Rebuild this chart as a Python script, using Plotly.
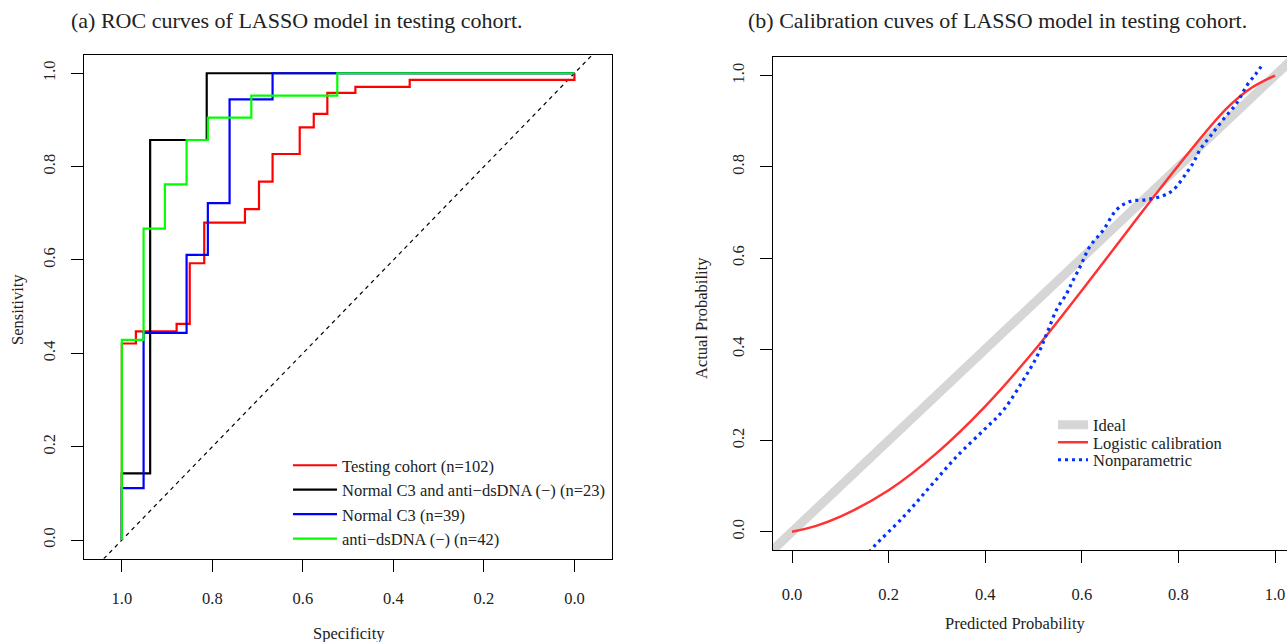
import plotly.graph_objects as go

W, H = 1287, 642
FONT = "Liberation Serif"

# ---------------- ROC data (specificity, sensitivity) ----------------
roc_names = ["Testing cohort (n=102)",
             "Normal C3 and anti\u2212dsDNA (\u2212) (n=23)",
             "Normal C3 (n=39)",
             "anti\u2212dsDNA (\u2212) (n=42)"]
roc_colors = ["#ff0000", "#000000", "#0000ff", "#00ff00"]

testing_spec = [1.0, 1.0, 0.969, 0.969, 0.879, 0.879, 0.85, 0.85, 0.818, 0.818, 0.728, 0.728,
                0.697, 0.697, 0.667, 0.667, 0.607, 0.607, 0.576, 0.576, 0.546, 0.546,
                0.484, 0.484, 0.364, 0.364, 0.0, 0.0]
testing_sens = [0.0, 0.421, 0.421, 0.447, 0.447, 0.463, 0.463, 0.593, 0.593, 0.68, 0.68, 0.709,
                0.709, 0.768, 0.768, 0.827, 0.827, 0.884, 0.884, 0.913, 0.913, 0.958,
                0.958, 0.971, 0.971, 0.986, 0.986, 1.0]

both_spec = [1.0, 1.0, 0.9375, 0.9375, 0.8125, 0.8125, 0.0]
both_sens = [0.0, 0.143, 0.143, 0.857, 0.857, 1.0, 1.0]

c3_spec = [1.0, 1.0, 0.952, 0.952, 0.857, 0.857, 0.810, 0.810, 0.762, 0.762, 0.667, 0.667, 0.0]
c3_sens = [0.0, 0.111, 0.111, 0.444, 0.444, 0.611, 0.611, 0.722, 0.722, 0.944, 0.944, 1.0, 1.0]

ds_spec = [1.0, 1.0, 0.952, 0.952, 0.905, 0.905, 0.857, 0.857, 0.810, 0.810, 0.714, 0.714,
           0.524, 0.524, 0.0]
ds_sens = [0.0, 0.429, 0.429, 0.667, 0.667, 0.762, 0.762, 0.857, 0.857, 0.905, 0.905, 0.952,
           0.952, 1.0, 1.0]

roc_specs = [testing_spec, both_spec, c3_spec, ds_spec]
roc_senss = [testing_sens, both_sens, c3_sens, ds_sens]

chance_spec = [1.2, -0.2]
chance_sens = [-0.2, 1.2]

# ---------------- Calibration data ----------------
cal_names = ["Ideal", "Logistic calibration", "Nonparametric"]

ideal_x = [-0.1, 1.1]
ideal_y = [-0.1, 1.1]

logit_x = [0.0, 0.05, 0.1, 0.2, 0.3, 0.4, 0.5, 0.6, 0.7, 0.8, 0.9, 0.95, 1.0]
logit_y = [0.0, 0.013, 0.033, 0.091, 0.173, 0.275, 0.395, 0.529, 0.667, 0.803, 0.928, 0.972, 1.0]

np_x = [0.160, 0.169, 0.231, 0.286, 0.341, 0.397, 0.438, 0.479, 0.507, 0.528, 0.548, 0.569,
        0.579, 0.597, 0.617, 0.645, 0.672, 0.700, 0.734, 0.769, 0.790, 0.817, 0.831, 0.845,
        0.866, 0.893, 0.921, 0.941, 0.962, 0.976]
np_y = [-0.045, -0.033, 0.033, 0.099, 0.165, 0.223, 0.267, 0.333, 0.384, 0.436, 0.487, 0.523,
        0.545, 0.582, 0.626, 0.662, 0.706, 0.724, 0.728, 0.737, 0.750, 0.787, 0.809, 0.838,
        0.867, 0.904, 0.940, 0.977, 1.006, 1.027]

tick_vals = [0.0, 0.2, 0.4, 0.6, 0.8, 1.0]
tick_text = ["0.0", "0.2", "0.4", "0.6", "0.8", "1.0"]

fig = go.Figure()

# chance diagonal
fig.add_trace(go.Scatter(x=chance_spec, y=chance_sens, mode="lines", showlegend=False,
                         line=dict(color="black", width=1.2, dash="4px,4px"),
                         xaxis="x", yaxis="y", hoverinfo="skip"))
for sp, se, nm, col in zip(roc_specs, roc_senss, roc_names, roc_colors):
    fig.add_trace(go.Scatter(x=sp, y=se, mode="lines", name=nm,
                             line=dict(color=col, width=2.2),
                             xaxis="x", yaxis="y", legend="legend"))

fig.add_trace(go.Scatter(x=ideal_x, y=ideal_y, mode="lines", name=cal_names[0],
                         line=dict(color="#d6d6d6", width=9),
                         xaxis="x2", yaxis="y2", legend="legend2"))
fig.add_trace(go.Scatter(x=logit_x, y=logit_y, mode="lines", name=cal_names[1],
                         line=dict(color="#ff3333", width=2.5, shape="spline", smoothing=1),
                         xaxis="x2", yaxis="y2", legend="legend3"))
fig.add_trace(go.Scatter(x=np_x, y=np_y, mode="lines", name=cal_names[2],
                         line=dict(color="#0033ff", width=3.2, dash="3px,4px", shape="spline", smoothing=1),
                         xaxis="x2", yaxis="y2", legend="legend4"))

def px(x):
    return x / W

def py(y):
    return 1 - y / H

TXT = "#222"
axis_common = dict(showgrid=False, zeroline=False, showline=True, linecolor="black", linewidth=1.3,
                   ticks="outside", ticklen=12, tickwidth=1.2, tickcolor="black",
                   tickvals=tick_vals, ticktext=tick_text,
                   tickfont=dict(family=FONT, size=16.5, color=TXT))

leg_font = dict(family=FONT, size=16.5, color=TXT)
def small_legend(y_center):
    return dict(x=px(1053), y=py(y_center), xanchor="left", yanchor="middle",
                bgcolor="rgba(0,0,0,0)", borderwidth=0, itemwidth=30, font=leg_font)

fig.update_layout(
    width=W, height=H, margin=dict(l=0, r=0, t=0, b=0),
    paper_bgcolor="white", plot_bgcolor="white",
    xaxis=dict(domain=[px(84.3), px(612)], range=[1.083, -0.083], mirror=True,
               anchor="y", ticklabelstandoff=12, **axis_common),
    yaxis=dict(domain=[py(558.7), py(54.6)], range=[-0.04, 1.04], mirror=True,
               anchor="x", tickangle=-90, ticklabelstandoff=10, **axis_common),
    xaxis2=dict(domain=[px(772.7), 1.0], range=[-0.04, 1.0248], mirror=True,
                anchor="y2", ticklabelstandoff=17, **axis_common),
    yaxis2=dict(domain=[py(550), py(57.3)], range=[-0.04, 1.04], mirror=False,
                anchor="x2", tickangle=-90, ticklabelstandoff=9, **axis_common),
    legend=dict(x=px(288), y=py(448), xanchor="left", yanchor="top",
                bgcolor="rgba(0,0,0,0)", borderwidth=0, itemwidth=44,
                font=leg_font, tracegroupgap=0),
    legend2=small_legend(425),
    legend3=small_legend(442.5),
    legend4=small_legend(460),
    showlegend=True,
)

ann_font = dict(family=FONT, size=16.5, color=TXT)
title_font = dict(family=FONT, size=22, color=TXT)
annotations = [
    dict(text="(a) ROC curves of LASSO model in testing cohort.", x=px(297), y=py(20), font=title_font),
    dict(text="(b) Calibration cuves of LASSO model in testing cohort.", x=px(997), y=py(20), font=title_font),
    dict(text="Specificity", x=px(349), y=py(633), font=ann_font),
    dict(text="Sensitivity", x=px(18), y=py(310), font=ann_font, textangle=-90),
    dict(text="Predicted Probability", x=px(1016), y=py(623), font=ann_font),
    dict(text="Actual Probability", x=px(702), y=py(318), font=ann_font, textangle=-90),
]
for a in annotations:
    a.update(xref="paper", yref="paper", xanchor="center", yanchor="middle", showarrow=False)
fig.update_layout(annotations=annotations)

fig.write_html("out.html")
